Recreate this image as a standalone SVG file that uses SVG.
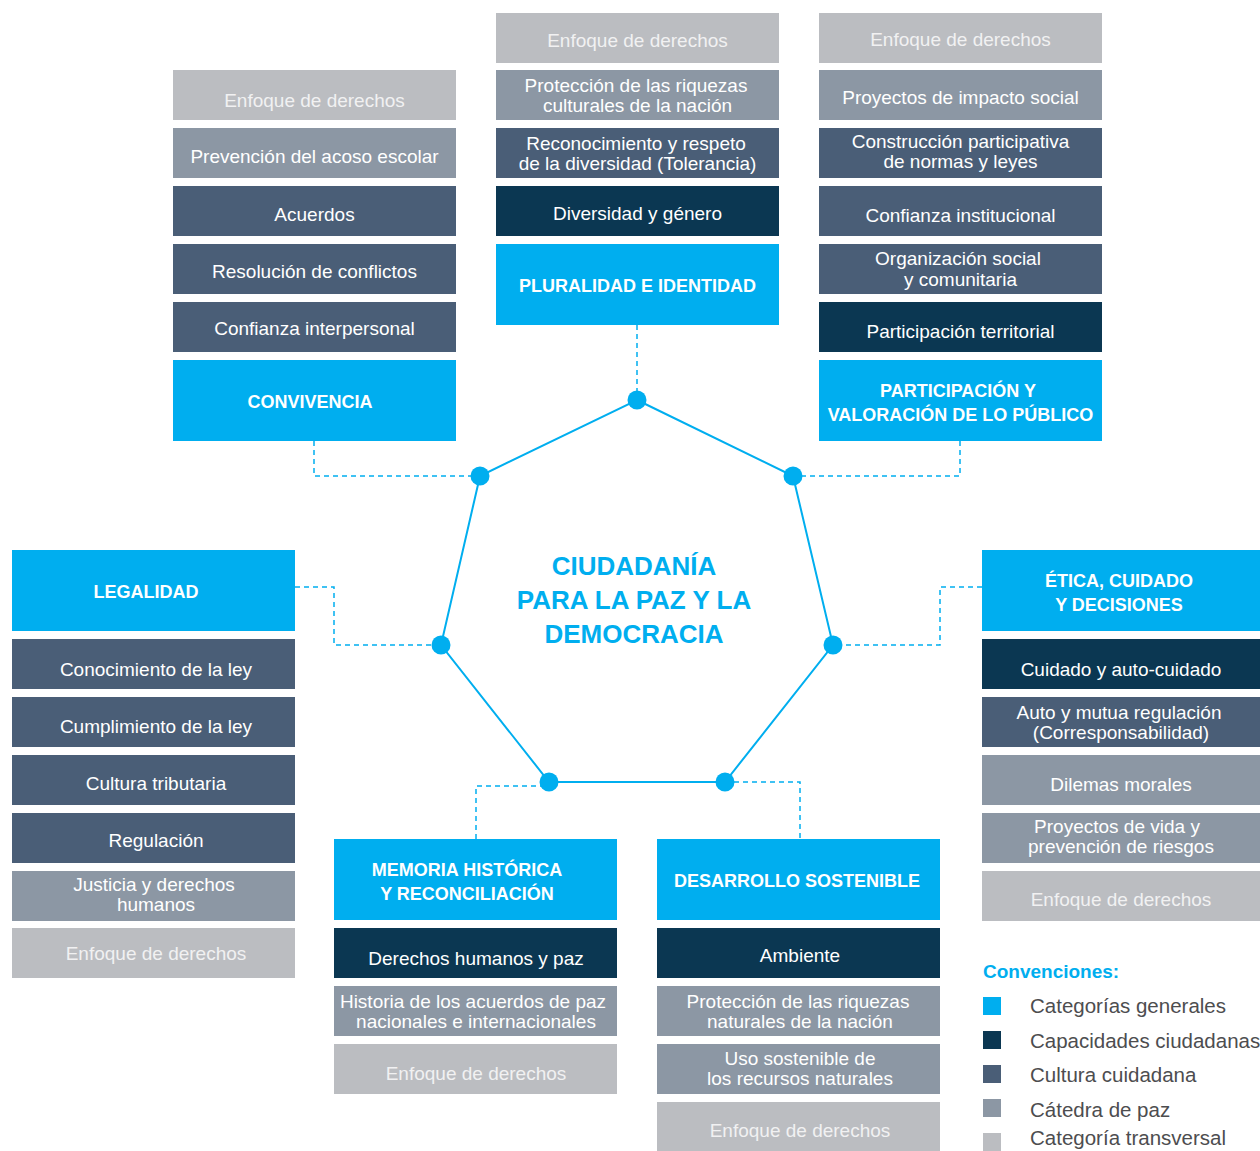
<svg xmlns="http://www.w3.org/2000/svg" width="1260" height="1151" viewBox="0 0 1260 1151">
<style>
.t{font-family:"Liberation Sans",Arial,sans-serif;font-size:19px;fill:#fff;text-anchor:middle}
.h{font-family:"Liberation Sans",Arial,sans-serif;font-size:18px;font-weight:bold;fill:#fff;text-anchor:middle}
.e{fill:#f1f1f2}
.c1{fill:#00aeef}.c2{fill:#0b3752}.c3{fill:#4a5e77}.c4{fill:#8c97a4}.c5{fill:#bbbdc1}
.dash{fill:none;stroke:#00aeef;stroke-width:1.5;stroke-dasharray:5 4}
.lg{font-family:"Liberation Sans",Arial,sans-serif;font-size:20.5px;fill:#4d4d4f}
</style>
<rect width="1260" height="1151" fill="#fff"/>
<g id="connectors">
<polygon points="637,400 793,476 833,645 725,782 549,782 441,645 480,476" fill="none" stroke="#00aeef" stroke-width="2"/>
<path class="dash" d="M637,325 V400"/>
<path class="dash" d="M314,441 V476 H480"/>
<path class="dash" d="M960,441 V476 H793"/>
<path class="dash" d="M295,587 H334 V645 H441"/>
<path class="dash" d="M982,587 H940 V645 H833"/>
<path class="dash" d="M476,839 V786 H549"/>
<path class="dash" d="M725,782 H800 V839"/>
<g fill="#00aeef">
<circle cx="637" cy="400" r="9.5"/><circle cx="793" cy="476" r="9.5"/><circle cx="833" cy="645" r="9.5"/>
<circle cx="725" cy="782" r="9.5"/><circle cx="549" cy="782" r="9.5"/><circle cx="441" cy="645" r="9.5"/>
<circle cx="480" cy="476" r="9.5"/>
</g>
</g>
<g id="center">
<text font-family="Liberation Sans,Arial,sans-serif" font-size="26" font-weight="bold" fill="#00aeef" text-anchor="middle">
<tspan x="634" y="575">CIUDADANÍA</tspan><tspan x="634" y="609">PARA LA PAZ Y LA</tspan><tspan x="634" y="643">DEMOCRACIA</tspan></text>
</g>
<g id="convivencia">
<rect class="c5" x="173" y="70" width="283" height="50"/><text class="t e" x="314.5" y="107">Enfoque de derechos</text>
<rect class="c4" x="173" y="128" width="283" height="50"/><text class="t" x="314.5" y="163">Prevención del acoso escolar</text>
<rect class="c3" x="173" y="186" width="283" height="50"/><text class="t" x="314.5" y="221">Acuerdos</text>
<rect class="c3" x="173" y="244" width="283" height="50"/><text class="t" x="314.5" y="278">Resolución de conflictos</text>
<rect class="c3" x="173" y="302" width="283" height="50"/><text class="t" x="314.5" y="335">Confianza interpersonal</text>
<rect class="c1" x="173" y="360" width="283" height="81"/><text class="h" x="310" y="408">CONVIVENCIA</text>
</g>
<g id="pluralidad">
<rect class="c5" x="496" y="13" width="283" height="50"/><text class="t e" x="637.5" y="47">Enfoque de derechos</text>
<rect class="c4" x="496" y="70" width="283" height="50"/><text class="t"><tspan x="636" y="92">Protección de las riquezas</tspan><tspan x="637.5" y="112">culturales de la nación</tspan></text>
<rect class="c3" x="496" y="128" width="283" height="50"/><text class="t"><tspan x="636" y="150">Reconocimiento y respeto</tspan><tspan x="637.5" y="170">de la diversidad (Tolerancia)</tspan></text>
<rect class="c2" x="496" y="186" width="283" height="50"/><text class="t" x="637.5" y="220">Diversidad y género</text>
<rect class="c1" x="496" y="244" width="283" height="81"/><text class="h" x="637.5" y="292">PLURALIDAD E IDENTIDAD</text>
</g>
<g id="participacion">
<rect class="c5" x="819" y="13" width="283" height="50"/><text class="t e" x="960.5" y="46">Enfoque de derechos</text>
<rect class="c4" x="819" y="70" width="283" height="50"/><text class="t" x="960.5" y="104">Proyectos de impacto social</text>
<rect class="c3" x="819" y="128" width="283" height="50"/><text class="t"><tspan x="960.5" y="148">Construcción participativa</tspan><tspan x="960.5" y="168">de normas y leyes</tspan></text>
<rect class="c3" x="819" y="186" width="283" height="50"/><text class="t" x="960.5" y="222">Confianza institucional</text>
<rect class="c3" x="819" y="244" width="283" height="50"/><text class="t"><tspan x="958" y="265">Organización social</tspan><tspan x="960.5" y="286">y comunitaria</tspan></text>
<rect class="c2" x="819" y="302" width="283" height="50"/><text class="t" x="960.5" y="338">Participación territorial</text>
<rect class="c1" x="819" y="360" width="283" height="81"/><text class="h"><tspan x="958" y="397">PARTICIPACIÓN Y</tspan><tspan x="960.5" y="421">VALORACIÓN DE LO PÚBLICO</tspan></text>
</g>
<g id="legalidad">
<rect class="c1" x="12" y="550" width="283" height="81"/><text class="h" x="146" y="598">LEGALIDAD</text>
<rect class="c3" x="12" y="639" width="283" height="50"/><text class="t" x="156" y="676">Conocimiento de la ley</text>
<rect class="c3" x="12" y="697" width="283" height="50"/><text class="t" x="156" y="733">Cumplimiento de la ley</text>
<rect class="c3" x="12" y="755" width="283" height="50"/><text class="t" x="156" y="790">Cultura tributaria</text>
<rect class="c3" x="12" y="813" width="283" height="50"/><text class="t" x="156" y="847">Regulación</text>
<rect class="c4" x="12" y="871" width="283" height="50"/><text class="t"><tspan x="154" y="891">Justicia y derechos</tspan><tspan x="156" y="911">humanos</tspan></text>
<rect class="c5" x="12" y="928" width="283" height="50"/><text class="t e" x="156" y="960">Enfoque de derechos</text>
</g>
<g id="etica">
<rect class="c1" x="982" y="550" width="283" height="81"/><text class="h"><tspan x="1119" y="587">ÉTICA, CUIDADO</tspan><tspan x="1119" y="611">Y DECISIONES</tspan></text>
<rect class="c2" x="982" y="639" width="283" height="50"/><text class="t" x="1121" y="676">Cuidado y auto-cuidado</text>
<rect class="c3" x="982" y="697" width="283" height="50"/><text class="t"><tspan x="1119" y="719">Auto y mutua regulación</tspan><tspan x="1121" y="739">(Corresponsabilidad)</tspan></text>
<rect class="c4" x="982" y="755" width="283" height="50"/><text class="t" x="1121" y="791">Dilemas morales</text>
<rect class="c4" x="982" y="813" width="283" height="50"/><text class="t"><tspan x="1117" y="833">Proyectos de vida y</tspan><tspan x="1121" y="853">prevención de riesgos</tspan></text>
<rect class="c5" x="982" y="871" width="283" height="50"/><text class="t e" x="1121" y="906">Enfoque de derechos</text>
</g>
<g id="memoria">
<rect class="c1" x="334" y="839" width="283" height="81"/><text class="h"><tspan x="467" y="876">MEMORIA HISTÓRICA</tspan><tspan x="467" y="900">Y RECONCILIACIÓN</tspan></text>
<rect class="c2" x="334" y="928" width="283" height="50"/><text class="t" x="476" y="965">Derechos humanos y paz</text>
<rect class="c4" x="334" y="986" width="283" height="50"/><text class="t"><tspan x="473" y="1008">Historia de los acuerdos de paz</tspan><tspan x="476" y="1028">nacionales e internacionales</tspan></text>
<rect class="c5" x="334" y="1044" width="283" height="50"/><text class="t e" x="476" y="1080">Enfoque de derechos</text>
</g>
<g id="desarrollo">
<rect class="c1" x="657" y="839" width="283" height="81"/><text class="h" x="797" y="887">DESARROLLO SOSTENIBLE</text>
<rect class="c2" x="657" y="928" width="283" height="50"/><text class="t" x="800" y="962">Ambiente</text>
<rect class="c4" x="657" y="986" width="283" height="50"/><text class="t"><tspan x="798" y="1008">Protección de las riquezas</tspan><tspan x="800" y="1028">naturales de la nación</tspan></text>
<rect class="c4" x="657" y="1044" width="283" height="50"/><text class="t"><tspan x="800" y="1065">Uso sostenible de</tspan><tspan x="800" y="1085">los recursos naturales</tspan></text>
<rect class="c5" x="657" y="1102" width="283" height="49"/><text class="t e" x="800" y="1137">Enfoque de derechos</text>
</g>
<g id="legend">
<text x="983" y="978" font-family="Liberation Sans,Arial,sans-serif" font-size="19" font-weight="bold" fill="#00aeef">Convenciones:</text>
<rect class="c1" x="983" y="997" width="18" height="18"/><text class="lg" x="1030" y="1013">Categorías generales</text>
<rect class="c2" x="983" y="1031" width="18" height="18"/><text class="lg" x="1030" y="1048">Capacidades ciudadanas</text>
<rect class="c3" x="983" y="1065" width="18" height="18"/><text class="lg" x="1030" y="1082">Cultura cuidadana</text>
<rect class="c4" x="983" y="1099" width="18" height="18"/><text class="lg" x="1030" y="1117">Cátedra de paz</text>
<rect class="c5" x="983" y="1133" width="18" height="18"/><text class="lg" x="1030" y="1145">Categoría transversal</text>
</g>
</svg>
